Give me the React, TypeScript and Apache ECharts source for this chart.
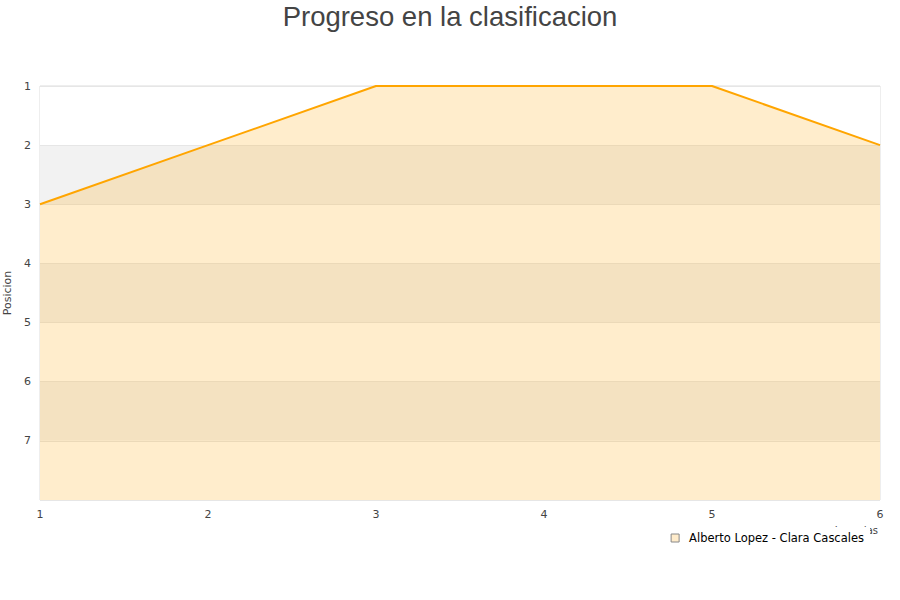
import React, { useEffect, useRef } from "react";
import * as echarts from "echarts";

const jornadas = [1, 2, 3, 4, 5, 6];
const posiciones = [3, 2, 1, 1, 1, 2];
const pareja = "Alberto Lopez - Clara Cascales";

export default function App() {
  const chartRef = useRef<HTMLDivElement>(null);

  useEffect(() => {
    document.body.style.margin = "0";
    if (!chartRef.current) return;
    const chart = echarts.init(chartRef.current, null, { renderer: "svg" });
    chart.setOption({
      animation: false,
      title: {
        text: "Progreso en la clasificacion",
        left: "center",
        top: -3,
        textStyle: {
          fontFamily: "Liberation Sans",
          fontSize: 27.5,
          fontWeight: "normal",
          color: "#444",
        },
      },
      grid: {
        left: 40,
        right: 20,
        top: 86,
        bottom: 100,
        outerBoundsMode: "none",
        containLabel: false,
        show: true,
        borderColor: "#ddd",
        borderWidth: 1,
      },
      graphic: [
        {
          type: "text",
          right: 22,
          top: 525,
          z: 1,
          style: {
            text: "Jornadas",
            fontFamily: "DejaVu Sans",
            fontSize: 10,
            fill: "#444",
          },
        },
      ],
      legend: {
        data: [pareja],
        right: 30,
        top: 527,
        padding: [5, 6, 3, 6],
        backgroundColor: "#fff",
        icon: "rect",
        itemWidth: 8,
        itemHeight: 8,
        itemGap: 10,
        z: 10,
        itemStyle: { color: "#ffeccb", borderColor: "#888", borderWidth: 1 },
        textStyle: {
          fontFamily: "DejaVu Sans",
          fontSize: 11.5,
          color: "#000",
          padding: [0, 0, 0, 5],
        },
      },
      xAxis: {
        type: "value",
        min: 1,
        max: 6,
        interval: 1,
        axisLine: { show: false },
        axisTick: { show: false },
        splitLine: { show: false },
        axisLabel: {
          fontFamily: "DejaVu Sans",
          fontSize: 11,
          color: "#444",
          margin: 9,
        },
      },
      yAxis: {
        type: "value",
        inverse: true,
        min: 1,
        max: 8,
        interval: 1,
        name: "Posicion",
        nameLocation: "middle",
        nameGap: 24,
        nameTextStyle: { fontFamily: "DejaVu Sans", fontSize: 11, color: "#444" },
        axisLine: { show: false },
        axisTick: { show: false },
        axisLabel: {
          fontFamily: "DejaVu Sans",
          fontSize: 11,
          color: "#444",
          margin: 9,
          formatter: (v: number) => (v === 8 ? "" : String(v)),
        },
        splitLine: { show: true, lineStyle: { color: "#e6e6e6", width: 1 } },
        splitArea: {
          show: true,
          areaStyle: { color: ["#ffffff", "#f2f2f2"] },
        },
      },
      series: [
        {
          name: pareja,
          type: "line",
          data: jornadas.map((j, i) => [j, posiciones[i]]),
          symbol: "none",
          lineStyle: { color: "#ffa500", width: 2 },
          itemStyle: { color: "#ffeccb" },
          areaStyle: { color: "#ffa500", opacity: 0.2, origin: "end" },
        },
      ],
    });
    return () => chart.dispose();
  }, []);

  return <div ref={chartRef} style={{ width: 900, height: 600 }} />;
}
